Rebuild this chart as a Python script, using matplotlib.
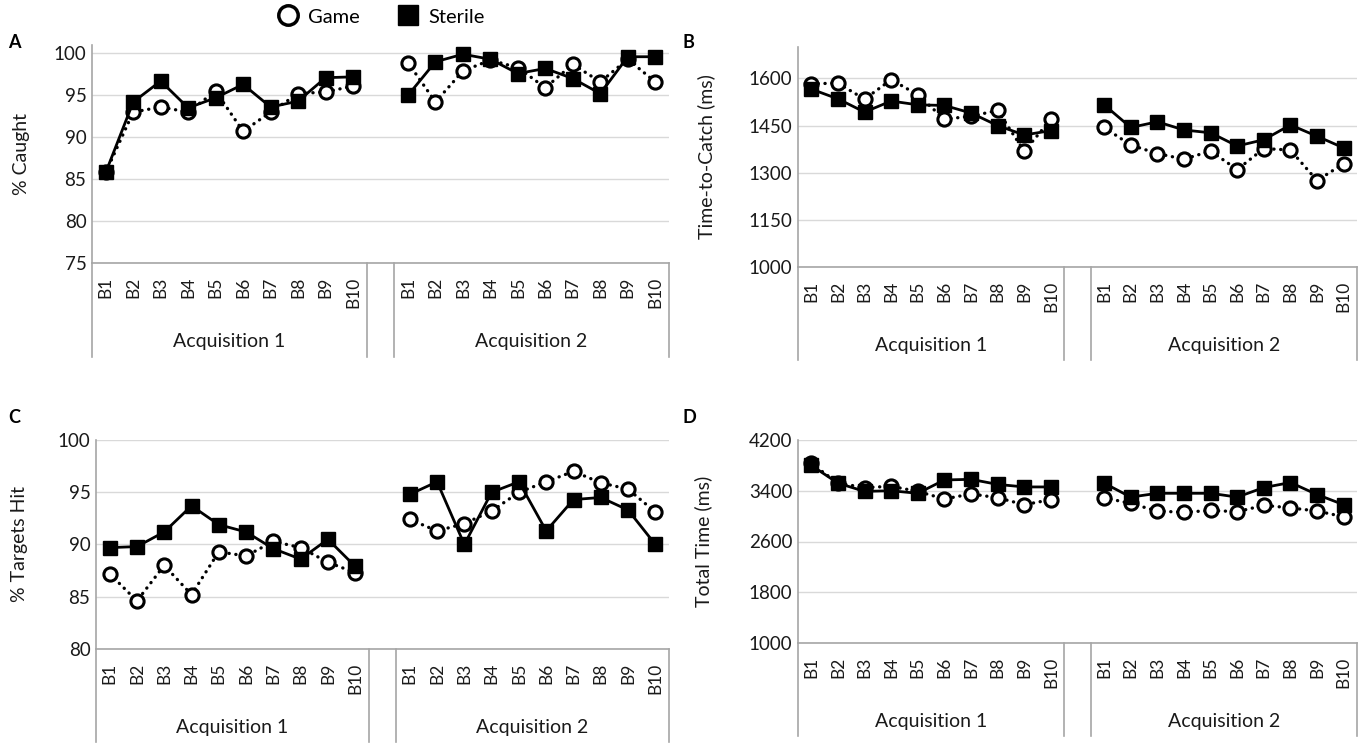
import matplotlib
matplotlib.use("Agg")
import matplotlib.pyplot as plt
from matplotlib.lines import Line2D
import numpy as np

plt.rcParams['font.family'] = ['Lato', 'DejaVu Sans']

# ---------------- data ----------------
blocks = ["B1", "B2", "B3", "B4", "B5", "B6", "B7", "B8", "B9", "B10"]
groups = ["Acquisition 1", "Acquisition 2"]
series_names = ["Game", "Sterile"]

# A: % Caught
caught_game_acq1 = [85.8, 93.0, 93.6, 93.0, 95.5, 90.7, 93.0, 95.2, 95.4, 96.1]
caught_game_acq2 = [98.9, 94.2, 97.9, 99.2, 98.3, 95.9, 98.7, 96.6, 99.3, 96.6]
caught_sterile_acq1 = [85.8, 94.2, 96.7, 93.5, 94.7, 96.3, 93.6, 94.3, 97.1, 97.2]
caught_sterile_acq2 = [95.0, 99.0, 99.9, 99.3, 97.6, 98.2, 97.0, 95.2, 99.6, 99.6]

# B: Time-to-Catch (ms)
ttc_game_acq1 = [1583, 1585, 1534, 1596, 1548, 1470, 1480, 1498, 1368, 1470]
ttc_game_acq2 = [1444, 1388, 1361, 1343, 1369, 1310, 1377, 1372, 1275, 1329]
ttc_sterile_acq1 = [1566, 1535, 1493, 1528, 1516, 1514, 1490, 1450, 1420, 1434]
ttc_sterile_acq2 = [1516, 1444, 1462, 1436, 1427, 1385, 1405, 1452, 1416, 1379]

# C: % Targets Hit
hit_game_acq1 = [87.2, 84.6, 88.0, 85.2, 89.3, 88.9, 90.3, 89.7, 88.3, 87.3]
hit_game_acq2 = [92.4, 91.3, 92.0, 93.2, 95.0, 96.0, 97.0, 95.9, 95.3, 93.1]
hit_sterile_acq1 = [89.7, 89.8, 91.2, 93.7, 91.9, 91.2, 89.6, 88.6, 90.5, 87.9]
hit_sterile_acq2 = [94.8, 96.0, 90.0, 95.0, 96.0, 91.3, 94.3, 94.5, 93.3, 90.0]

# D: Total Time (ms)
tt_game_acq1 = [3830, 3520, 3450, 3470, 3390, 3270, 3350, 3290, 3180, 3260]
tt_game_acq2 = [3290, 3200, 3080, 3060, 3090, 3070, 3170, 3130, 3080, 2990]
tt_sterile_acq1 = [3800, 3520, 3390, 3400, 3360, 3570, 3580, 3500, 3460, 3460]
tt_sterile_acq2 = [3520, 3300, 3360, 3360, 3360, 3300, 3450, 3530, 3340, 3180]

# ---------------- layout helpers ----------------
W, H = 1359, 744
fig = plt.figure(figsize=(W / 100, H / 100), dpi=100)

GRID = '#d9d9d9'
AXC = '#a6a6a6'
TXT = '#1a1a1a'

panels = [
    dict(letter="A", box=(92, 669, 45, 263), cat_bottom=357, ylim=(75, 101),
         yticks=np.arange(75, 101, 5), ylabel="% Caught", ylab_x=30,
         game=(caught_game_acq1, caught_game_acq2),
         sterile=(caught_sterile_acq1, caught_sterile_acq2), letter_xy=(8, 42)),
    dict(letter="B", box=(798, 1357, 47, 267), cat_bottom=360, ylim=(1000, 1700),
         yticks=np.arange(1000, 1601, 150), ylabel="Time-to-Catch (ms)", ylab_x=715,
         game=(ttc_game_acq1, ttc_game_acq2),
         sterile=(ttc_sterile_acq1, ttc_sterile_acq2), letter_xy=(683, 42)),
    dict(letter="C", box=(96, 669, 440, 649), cat_bottom=742, ylim=(80, 100),
         yticks=np.arange(80, 101, 5), ylabel="% Targets Hit", ylab_x=28,
         game=(hit_game_acq1, hit_game_acq2),
         sterile=(hit_sterile_acq1, hit_sterile_acq2), letter_xy=(8, 418)),
    dict(letter="D", box=(798, 1357, 440, 643), cat_bottom=736, ylim=(1000, 4200),
         yticks=np.arange(1000, 4201, 800), ylabel="Total Time (ms)", ylab_x=712,
         game=(tt_game_acq1, tt_game_acq2),
         sterile=(tt_sterile_acq1, tt_sterile_acq2), letter_xy=(683, 418)),
]

x1 = np.arange(10)
x2 = np.arange(11, 21)

game_style = dict(color='black', ls=(0, (0.05, 2.0)), lw=2.4, marker='o', ms=9.5,
                  mfc='white', mec='black', mew=2.2, dash_capstyle='round')
sterile_style = dict(color='black', ls='-', lw=2.0, marker='s', ms=10,
                     mfc='black', mec='black', mew=1.0)

for p in panels:
    l, r, t, b = p['box']
    ax = fig.add_axes([l / W, 1 - b / H, (r - l) / W, (b - t) / H])
    ax.set_xlim(-0.5, 20.5)
    ax.set_ylim(*p['ylim'])
    ax.set_yticks(p['yticks'])
    ax.set_xticks([])
    ax.tick_params(axis='y', length=0, pad=4, labelsize=13.5, labelcolor=TXT)
    ax.yaxis.grid(True, color=GRID, lw=1.0)
    ax.set_axisbelow(True)
    for s in ['top', 'right']:
        ax.spines[s].set_visible(False)
    ax.spines['left'].set_color(AXC)
    ax.spines['bottom'].set_color(AXC)
    ax.spines['left'].set_linewidth(1.2)
    ax.spines['bottom'].set_linewidth(1.2)

    g1, g2 = p['game']
    s1, s2 = p['sterile']
    ax.plot(x1, g1, **game_style, zorder=3)
    ax.plot(x2, g2, **game_style, zorder=3)
    ax.plot(x1, s1, **sterile_style, zorder=4)
    ax.plot(x2, s2, **sterile_style, zorder=4)

    # category axis (two-level)
    ph = b - t
    d = (p['cat_bottom'] - b) / ph
    tr = ax.get_xaxis_transform()
    for xv in [-0.5, 9.5, 10.5, 20.5]:
        ax.plot([xv, xv], [0, -d], transform=tr, color=AXC, lw=1.2,
                clip_on=False, zorder=1)
    for i, lab in enumerate(blocks):
        for off in (0, 11):
            ax.text(i + off, -14 / ph, lab, transform=tr, rotation=90,
                    ha='center', va='top', fontsize=12.5, color=TXT)
    ax.text(4.5, -78 / ph, groups[0], transform=tr, ha='center', va='center',
            fontsize=14, color=TXT)
    ax.text(15.5, -78 / ph, groups[1], transform=tr, ha='center', va='center',
            fontsize=14, color=TXT)

    ax.set_ylabel(p['ylabel'], fontsize=14, color=TXT)
    ax.yaxis.set_label_coords((p['ylab_x'] - l) / (r - l), 0.5)

    fig.text(p['letter_xy'][0] / W, 1 - p['letter_xy'][1] / H, p['letter'],
             fontsize=13, fontweight='bold', ha='left', va='center', color='black')

# legend
handles = [
    Line2D([], [], ls='none', marker='o', ms=14, mfc='white', mec='black', mew=2.5),
    Line2D([], [], ls='none', marker='s', ms=15, mfc='black', mec='black'),
]
fig.legend(handles, series_names, loc='center', bbox_to_anchor=(380 / W, 1 - 17 / H),
           ncol=2, frameon=False, fontsize=14.5, handletextpad=0.4, columnspacing=1.8,
           handlelength=1.2)

fig.savefig("out.png", dpi=100)
